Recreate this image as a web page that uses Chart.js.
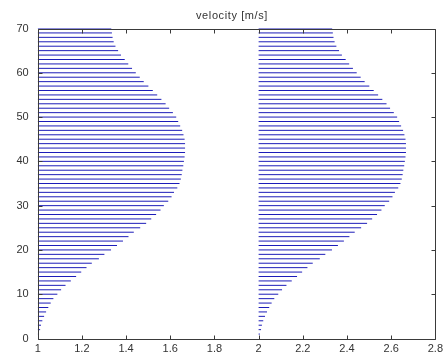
<!DOCTYPE html>
<html>
<head>
<meta charset="utf-8">
<script src="https://cdn.jsdelivr.net/npm/chart.js@4.4.1/dist/chart.umd.min.js"></script>
<style>
  html, body { margin: 0; padding: 0; background: #fff; }
  #wrap { width: 447px; height: 356px; }
</style>
</head>
<body>
<div id="wrap"><canvas id="chart" width="447" height="356"></canvas></div>
<script>
// heights of the sampled rows
const heights = [1, 2, 3, 4, 5, 6, 7, 8, 9, 10,
    11, 12, 13, 14, 15, 16, 17, 18, 19, 20,
    21, 22, 23, 24, 25, 26, 27, 28, 29, 30,
    31, 32, 33, 34, 35, 36, 37, 38, 39, 40,
    41, 42, 43, 44, 45, 46, 47, 48, 49, 50,
    51, 52, 53, 54, 55, 56, 57, 58, 59, 60,
    61, 62, 63, 64, 65, 66, 67, 68, 69, 70];
// velocity at each row (arrow length in x units)
const velocity = [0.006, 0.011, 0.015, 0.021, 0.029, 0.038, 0.048, 0.059, 0.071, 0.089,
    0.106, 0.126, 0.150, 0.174, 0.197, 0.221, 0.245, 0.277, 0.302, 0.332,
    0.359, 0.386, 0.411, 0.435, 0.464, 0.491, 0.514, 0.536, 0.556, 0.571,
    0.591, 0.606, 0.617, 0.632, 0.642, 0.648, 0.652, 0.655, 0.659, 0.662,
    0.665, 0.667, 0.667, 0.667, 0.665, 0.660, 0.654, 0.645, 0.636, 0.627,
    0.612, 0.595, 0.579, 0.560, 0.541, 0.521, 0.501, 0.480, 0.462, 0.444,
    0.427, 0.410, 0.394, 0.377, 0.364, 0.352, 0.344, 0.339, 0.336, 0.333];
// where each profile starts on the x axis
const profileStarts = [1, 2];
const xTicks = [1, 1.2, 1.4, 1.6, 1.8, 2, 2.2, 2.4, 2.6, 2.8];
const yTicks = [0, 10, 20, 30, 40, 50, 60, 70];

const lineColor = 'rgb(28,28,185)';
const textColor = '#333';

// one dataset per profile, segments split by null points
function buildSegments(x0) {
    const pts = [];
    for (let i = 0; i < heights.length; i++) {
        pts.push({x: x0, y: heights[i]});
        pts.push({x: x0 + velocity[i], y: heights[i]});
        pts.push({x: x0, y: null});
    }
    return pts;
}

const datasets = profileStarts.map(x0 => ({
    data: buildSegments(x0),
    showLine: true,
    spanGaps: false,
    borderColor: lineColor,
    borderWidth: 1,
    pointRadius: 0,
    pointHoverRadius: 0
}));

// box, inward ticks and title like the original figure
const boxPlugin = {
    id: 'box',
    afterDraw(chart) {
        const ctx = chart.ctx;
        const a = chart.chartArea;
        const sx = chart.scales.x, sy = chart.scales.y;
        const tl = 4;
        ctx.save();
        ctx.strokeStyle = '#3a3a3a';
        ctx.lineWidth = 1;
        ctx.beginPath();
        const L = Math.round(a.left) + 0.5, R = Math.round(a.right) + 0.5;
        const T = Math.round(a.top) + 0.5, B = Math.round(a.bottom) + 0.5;
        ctx.rect(L, T, R - L, B - T);
        for (const v of xTicks) {
            const px = Math.round(sx.getPixelForValue(v)) + 0.5;
            ctx.moveTo(px, B); ctx.lineTo(px, B - tl);
            ctx.moveTo(px, T); ctx.lineTo(px, T + tl);
        }
        for (const v of yTicks) {
            const py = Math.round(sy.getPixelForValue(v)) + 0.5;
            ctx.moveTo(L, py); ctx.lineTo(L + tl, py);
            ctx.moveTo(R, py); ctx.lineTo(R - tl, py);
        }
        ctx.stroke();

        ctx.fillStyle = textColor;
        ctx.font = '11px "Liberation Sans", Arial, sans-serif';
        ctx.letterSpacing = '0.6px';
        ctx.textAlign = 'center';
        ctx.textBaseline = 'alphabetic';
        ctx.fillText('velocity [m/s]', 232, 19);
        ctx.restore();
    }
};

new Chart(document.getElementById('chart'), {
    type: 'scatter',
    data: { datasets: datasets },
    options: {
        responsive: false,
        animation: false,
        layout: { padding: { top: 28.5, right: 10, bottom: 0, left: 0 } },
        plugins: {
            legend: { display: false },
            tooltip: { enabled: false },
            title: { display: false }
        },
        scales: {
            x: {
                type: 'linear',
                min: 1,
                max: 2.8,
                afterFit: s => { s.height = 17.5; },
                afterBuildTicks: s => { s.ticks = xTicks.map(v => ({value: v})); },
                grid: { display: false, drawTicks: false },
                border: { display: false },
                ticks: {
                    autoSkip: false,
                    maxRotation: 0,
                    padding: 4,
                    color: textColor,
                    font: { family: '"Liberation Sans", Arial, sans-serif', size: 11 },
                    callback: v => String(Number(v.toFixed(1)))
                }
            },
            y: {
                type: 'linear',
                min: 0,
                max: 70,
                afterFit: s => { s.width = 37.7; },
                afterBuildTicks: s => { s.ticks = yTicks.map(v => ({value: v})); },
                grid: { display: false, drawTicks: false },
                border: { display: false },
                ticks: {
                    autoSkip: false,
                    padding: 9,
                    color: textColor,
                    font: { family: '"Liberation Sans", Arial, sans-serif', size: 11 },
                    callback: v => String(v)
                }
            }
        }
    },
    plugins: [boxPlugin]
});
</script>
</body>
</html>
